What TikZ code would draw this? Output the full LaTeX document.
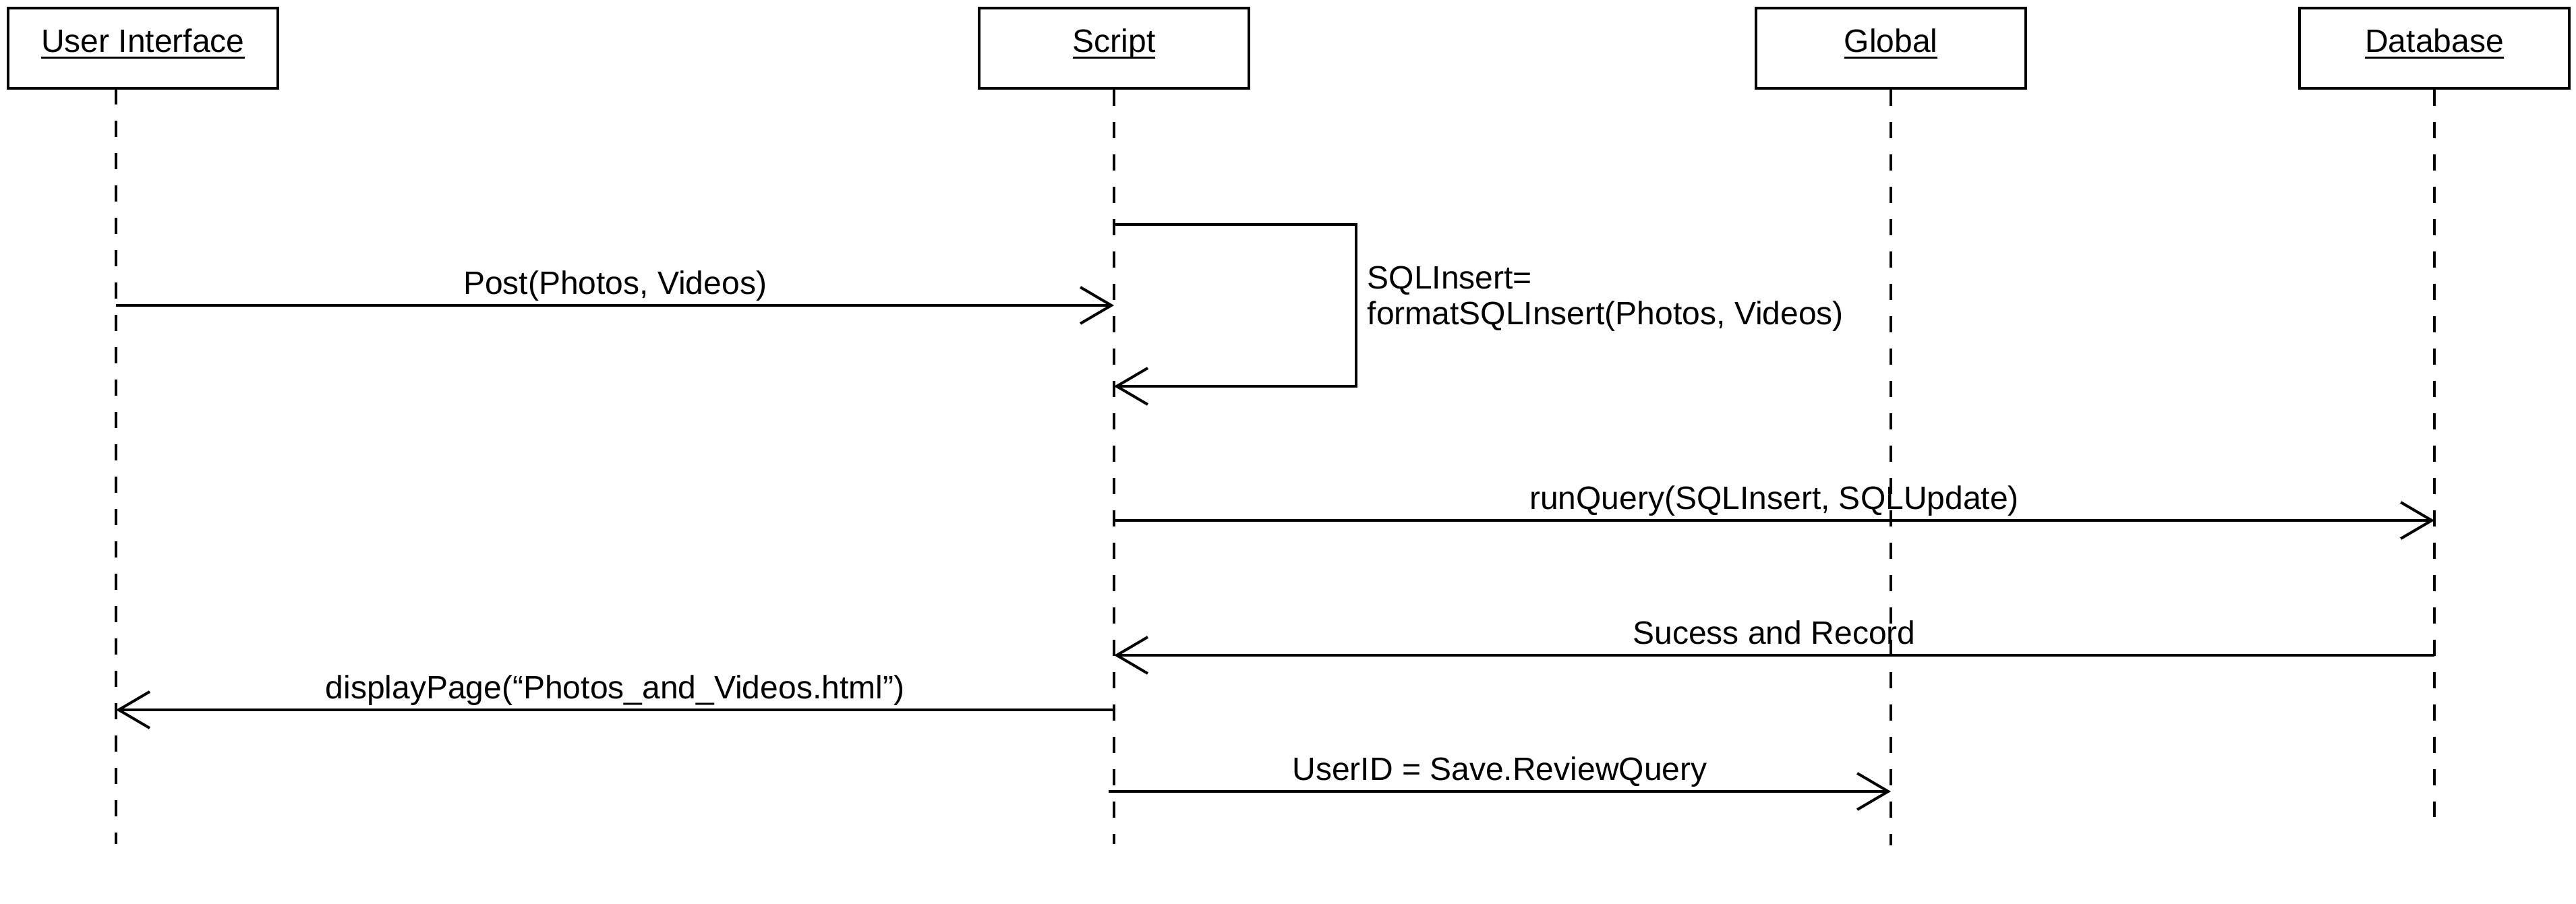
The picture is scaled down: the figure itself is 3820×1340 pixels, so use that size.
\documentclass[tikz,border=0pt]{standalone}
\usepackage{fontspec}
\setmainfont{Liberation Sans}
\usetikzlibrary{arrows.meta}
\newcommand\ulbox[1]{\setbox0\hbox{#1}\rlap{\rule[-2.35pt]{\wd0}{0.7pt}}\box0}
\begin{document}
\begin{tikzpicture}[x=0.25pt,y=-0.25pt,
  actor/.style={draw, line width=1pt, minimum width=100pt, minimum height=29.75pt, inner sep=0pt, text height=9.2pt, text depth=6.2pt, font=\fontsize{12}{14}\selectfont},
  lifeline/.style={line width=1pt, dash pattern=on 6pt off 6pt},
  msg/.style={line width=1pt, -{Straight Barb[length=11.5pt,width=13.5pt]}},
  lbl/.style={font=\fontsize{12}{14}\selectfont, anchor=base, inner sep=0pt, yshift=4.25pt},
  note/.style={font=\fontsize{12}{14}\selectfont, anchor=base west, inner sep=0pt}]
\useasboundingbox (0,0) rectangle (3820,1340);

% actors
\node[actor] (ui) at (212,71.5) {\ulbox{User Interface}};
\node[actor] (sc) at (1652,71.5) {\ulbox{Script}};
\node[actor] (gl) at (2804,71.5) {\ulbox{Global}};
\node[actor] (db) at (3610,71.5) {\ulbox{Database}};

% lifeline anchors
\coordinate (uitop) at (172,131);
\coordinate (sctop) at (sc.south);
\coordinate (gltop) at (gl.south);
\coordinate (dbtop) at (db.south);
\coordinate (uiend) at (172,1252);
\coordinate (scend) at (1652,1252);
\coordinate (glend) at (2804,1254);
\coordinate (dbend) at (3610,1212);

% messages
\draw[msg] (uitop |- 0,453) -- node[lbl] {Post(Photos, Videos)} (sctop |- 0,453);

\coordinate (selfa) at (2011,333);
\coordinate (selfb) at (2011,573);
\draw[msg] (sctop |- 0,333) -- (selfa) -- (selfb) -- (sctop |- 0,573);
\node[note] (sql1) at (2027,428) {SQLInsert=};
\node[note] (sql2) at (2027,481) {formatSQLInsert(Photos, Videos)};

\draw[msg] (sctop |- 0,772) -- node[lbl] {runQuery(SQLInsert, SQLUpdate)} (dbtop |- 0,772);
\draw[msg] (dbtop |- 0,972) -- node[lbl] {Sucess and Record} (sctop |- 0,972);
\draw[msg] (sctop |- 0,1053) -- node[lbl] {displayPage(“Photos\_and\_Videos.html”)} (uitop |- 0,1053);
\coordinate (uidstart) at (1644,1174);
\draw[msg] (uidstart) -- node[lbl] {UserID = Save.ReviewQuery} (gltop |- 0,1174);

% lifelines
\draw[lifeline] (uitop) -- (uiend);
\draw[lifeline] (sctop) -- (scend);
\draw[lifeline] (gltop) -- (glend);
\draw[lifeline] (dbtop) -- (dbend);
\end{tikzpicture}
\end{document}
